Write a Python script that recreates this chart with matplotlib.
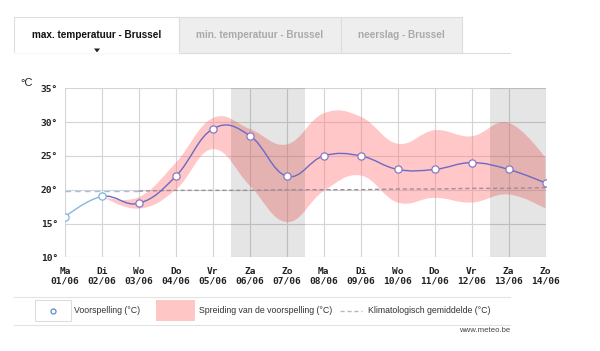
import matplotlib
matplotlib.use("Agg")
import matplotlib.pyplot as plt
from matplotlib.path import Path
from matplotlib.patches import PathPatch, Rectangle, Polygon
from matplotlib.lines import Line2D

# ---------------- data ----------------
day_names = ["Ma", "Di", "Wo", "Do", "Vr", "Za", "Zo", "Ma", "Di", "Wo", "Do", "Vr", "Za", "Zo"]
dates = ["01/06", "02/06", "03/06", "04/06", "05/06", "06/06", "07/06",
         "08/06", "09/06", "10/06", "11/06", "12/06", "13/06", "14/06"]
forecast = [16, 19, 18, 22, 29, 28, 22, 25, 25, 23, 23, 24, 23, 21]
spread_upper = [None, 19, 18.9, 24.0, 30.6, 29.0, 26.7, 31.3, 30.8, 26.8, 28.8, 27.9, 29.9, 24.7]
spread_lower = [None, 19, 17.2, 20.0, 26.0, 20.6, 15.2, 19.8, 22.1, 18.1, 18.8, 18.1, 19.3, 17.2]
climate = [19.8, 19.8, 19.8, 19.9, 19.9, 19.9, 20.0, 20.0, 20.0, 20.1, 20.1, 20.2, 20.2, 20.3]
weekend_spans = [(4.5, 6.5), (11.5, 13.0)]
y_ticks = [10, 15, 20, 25, 30, 35]
tabs = ["max. temperatuur - Brussel", "min. temperatuur - Brussel", "neerslag - Brussel"]
legend_labels = ["Voorspelling (°C)", "Spreiding van de voorspelling (°C)", "Klimatologisch gemiddelde (°C)"]

W, H = 600, 351
fig = plt.figure(figsize=(W / 100, H / 100), dpi=100)
fig.patch.set_facecolor("white")


def fx(x):
    return x / W


def fy(y):
    return 1 - y / H


def spline_segments(xs, ys):
    """Highcharts-like bezier spline (smoothing 1.5), returns Path verts/codes."""
    n = len(xs)
    sm = 1.5
    den = sm + 1
    lc = [None] * n
    rc = [None] * n
    for i in range(n):
        x, y = xs[i], ys[i]
        if 0 < i < n - 1:
            lx, ly = xs[i - 1], ys[i - 1]
            nx, ny = xs[i + 1], ys[i + 1]
            lcx = (sm * x + lx) / den
            lcy = (sm * y + ly) / den
            rcx = (sm * x + nx) / den
            rcy = (sm * y + ny) / den
            corr = 0
            if rcx != lcx:
                corr = (rcy - lcy) * (rcx - x) / (rcx - lcx) + y - rcy
            lc[i] = (lcx, lcy + corr)
            rc[i] = (rcx, rcy + corr)
        else:
            lc[i] = (x, y)
            rc[i] = (x, y)
    verts = [(xs[0], ys[0])]
    codes = [Path.MOVETO]
    for i in range(1, n):
        verts += [rc[i - 1], lc[i], (xs[i], ys[i])]
        codes += [Path.CURVE4] * 3
    return verts, codes


# ---------------- plot area ----------------
ax = fig.add_axes([fx(65), fy(257.3), fx(545.5) - fx(65), fy(88.3) - fy(257.3)])
ax.set_xlim(0, 13)
ax.set_ylim(10, 35)
for s in ax.spines.values():
    s.set_visible(False)

ax.set_xticks(range(len(dates)))
ax.set_xticklabels([f"{d}\n{t}" for d, t in zip(day_names, dates)],
                   fontfamily="DejaVu Sans Mono", fontweight="bold", fontsize=6.8,
                   color="#222222", linespacing=1.05)
ax.set_yticks(y_ticks)
ax.set_yticklabels([f"{v}°" for v in y_ticks], fontfamily="DejaVu Sans Mono",
                   fontweight="bold", fontsize=6.8, color="#222222")
ax.tick_params(axis="both", length=0)
ax.tick_params(axis="x", pad=7)
ax.tick_params(axis="y", pad=5)
ax.grid(True, color="#d4d4d4", linewidth=0.8, zorder=0)
ax.set_axisbelow(True)

# spread band
idx = [i for i, v in enumerate(spread_upper) if v is not None]
xs = [float(i) for i in idx]
uv, uc = spline_segments(xs, [spread_upper[i] for i in idx])
lv, lcodes = spline_segments(xs[::-1], [spread_lower[i] for i in idx][::-1])
verts = uv + [lv[0]] + lv[1:] + [uv[0]]
codes = uc + [Path.LINETO] + lcodes[1:] + [Path.CLOSEPOLY]
ax.add_patch(PathPatch(Path(verts, codes), facecolor="#ff7a7a", alpha=0.42,
                       edgecolor="none", zorder=2))

# weekend shading (drawn over band to darken it)
for a, b in weekend_spans:
    ax.axvspan(a, b, color="black", alpha=0.1, linewidth=0, zorder=3)

# climate line
ax.plot(range(0, 3), climate[0:3], linestyle=(0, (4, 3)), color="#a9bfd6", linewidth=1.0, zorder=4)
ax.plot(range(2, len(climate)), climate[2:], linestyle=(0, (3, 2)), color="#9a8f9a", linewidth=1.0, zorder=4)

# forecast line
ov, oc = spline_segments([0.0, 1.0, 2.0], forecast[0:3])
obs_path = Path(ov[:4], oc[:4])
ax.add_patch(PathPatch(obs_path, facecolor="none", edgecolor="#86b6e2", linewidth=1.0, zorder=5))
fv, fc = spline_segments([float(i) for i in range(len(forecast))], forecast)
fpath = Path(fv[3:], [Path.MOVETO] + fc[4:])
ax.add_patch(PathPatch(fpath, facecolor="none", edgecolor="#6a6ac4", linewidth=1.0, zorder=5))

ax.plot(range(0, 2), forecast[0:2], linestyle="none", marker="o", markersize=5.2,
        markerfacecolor="white", markeredgecolor="#7fb2e0", markeredgewidth=0.9, zorder=6)
ax.plot(range(2, len(forecast)), forecast[2:], linestyle="none", marker="o", markersize=5.2,
        markerfacecolor="white", markeredgecolor="#8a78c4", markeredgewidth=0.9, zorder=6)

fig.text(fx(20), fy(83), "°C", fontsize=8, color="#222222", va="center", ha="left",
         fontfamily="Liberation Sans")

# ---------------- tabs ----------------
tab_edges = [(14, 179), (179, 341), (341, 462)]
for k, ((x0, x1), label) in enumerate(zip(tab_edges, tabs)):
    face = "white" if k == 0 else "#eeeeee"
    fig.patches.append(Rectangle((fx(x0), fy(53)), fx(x1 - x0), fy(17) - fy(53),
                                 transform=fig.transFigure, facecolor=face,
                                 edgecolor="#dddddd", linewidth=0.8))
    fig.text(fx((x0 + x1) / 2), fy(35), label, ha="center", va="center",
             fontsize=7.2, fontweight="bold", fontfamily="Liberation Sans",
             color="#111111" if k == 0 else "#aaaaaa")
# cover bottom border under active tab
fig.lines.append(Line2D([fx(14.5), fx(178.5)], [fy(53), fy(53)], transform=fig.transFigure,
                        color="white", linewidth=1.2))
fig.lines.append(Line2D([fx(179), fx(510)], [fy(53), fy(53)], transform=fig.transFigure,
                        color="#dddddd", linewidth=0.8))
fig.patches.append(Polygon([(fx(94), fy(48.5)), (fx(100), fy(48.5)), (fx(97), fy(52.5))],
                           closed=True, transform=fig.transFigure, facecolor="#222222",
                           edgecolor="none"))

# ---------------- legend ----------------
for yy in (296.5, 324.5):
    fig.lines.append(Line2D([fx(14), fx(510)], [fy(yy), fy(yy)], transform=fig.transFigure,
                            color="#e3e3e3", linewidth=0.8))
fig.patches.append(Rectangle((fx(35), fy(321)), fx(36), fy(300) - fy(321), transform=fig.transFigure,
                             facecolor="white", edgecolor="#dddddd", linewidth=0.8))
fig.lines.append(Line2D([fx(52.5)], [fy(310.5)], transform=fig.transFigure, marker="o",
                        markersize=3.6, markerfacecolor="white", markeredgecolor="#5a8fd0",
                        markeredgewidth=0.9, linestyle="none"))
fig.patches.append(Rectangle((fx(156), fy(321)), fx(39), fy(300) - fy(321), transform=fig.transFigure,
                             facecolor="#ffc6c6", edgecolor="none"))
fig.lines.append(Line2D([fx(340), fx(362)], [fy(310.5), fy(310.5)], transform=fig.transFigure,
                        color="#b0b8c8", linewidth=1.0, linestyle=(0, (3, 2))))
for xx, lab in zip((74, 199, 368), legend_labels):
    fig.text(fx(xx), fy(310.5), lab, ha="left", va="center", fontsize=6.3,
             fontfamily="Liberation Sans", color="#333333")
fig.text(fx(510), fy(330.5), "www.meteo.be", ha="right", va="center", fontsize=5.6,
         fontfamily="Liberation Sans", color="#444444")

fig.savefig("out.png", dpi=100, facecolor="white")
